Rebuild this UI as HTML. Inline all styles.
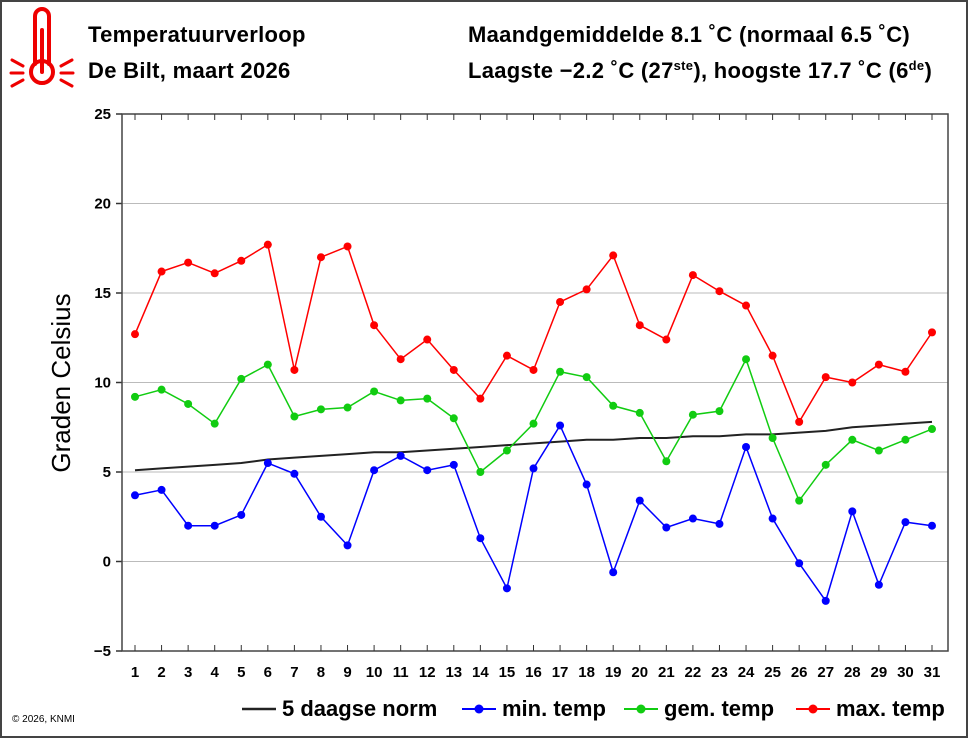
<!DOCTYPE html>
<html><head><meta charset="utf-8"><style>
html,body{margin:0;padding:0;background:#fff}
svg{display:block;font-family:"Liberation Sans",Arial,sans-serif}
</style></head><body>
<svg id="c" width="968" height="739" viewBox="0 0 968 739">
<rect x="1" y="1" width="966" height="736" fill="#fff" stroke="#444" stroke-width="2"/>
<g stroke="#e00" fill="none" stroke-linecap="round">
<path d="M35 64 V16 a7 7 0 0 1 14 0 V64" stroke-width="4"/>
<circle cx="42" cy="72" r="11" stroke-width="4"/>
<line x1="42" y1="30" x2="42" y2="72" stroke-width="4"/>
<line x1="11" y1="73" x2="23" y2="73" stroke-width="3"/><line x1="61" y1="73" x2="73" y2="73" stroke-width="3"/>
<line x1="12" y1="60" x2="23" y2="66" stroke-width="3"/><line x1="72" y1="60" x2="61" y2="66" stroke-width="3"/>
<line x1="12" y1="86" x2="23" y2="80" stroke-width="3"/><line x1="72" y1="86" x2="61" y2="80" stroke-width="3"/>
</g>
<g font-size="22" font-weight="bold" letter-spacing="0.3">
<text x="88" y="42">Temperatuurverloop</text>
<text x="88" y="78">De Bilt, maart 2026</text>
<text x="468" y="42">Maandgemiddelde 8.1 ˚C (normaal 6.5 ˚C)</text>
<text x="468" y="78">Laagste −2.2 ˚C (27<tspan font-size="13" dy="-8">ste</tspan><tspan dy="8">), hoogste 17.7 ˚C (6</tspan><tspan font-size="13" dy="-8">de</tspan><tspan dy="8">)</tspan></text>
</g>
<text transform="translate(70,383) rotate(-90)" text-anchor="middle" font-size="26">Graden Celsius</text>
<g id="grid"></g><g id="axes"></g><g id="series"></g>
<text x="12" y="722" font-size="10">© 2026, KNMI</text>
<g font-size="22" font-weight="bold">
<g><line x1="242" y1="709" x2="276" y2="709" stroke="#222" stroke-width="2.5"/><text x="282" y="716">5 daagse norm</text></g>
<g><line x1="462" y1="709" x2="496" y2="709" stroke="#00f" stroke-width="2"/><circle cx="479" cy="709" r="4.5" fill="#00f"/><text x="502" y="716">min. temp</text></g>
<g><line x1="624" y1="709" x2="658" y2="709" stroke="#1c1" stroke-width="2"/><circle cx="641" cy="709" r="4.5" fill="#1c1"/><text x="664" y="716">gem. temp</text></g>
<g><line x1="796" y1="709" x2="830" y2="709" stroke="#f00" stroke-width="2"/><circle cx="813" cy="709" r="4.5" fill="#f00"/><text x="836" y="716">max. temp</text></g>
</g>
</svg>
<script>
const days=[1,2,3,4,5,6,7,8,9,10,11,12,13,14,15,16,17,18,19,20,21,22,23,24,25,26,27,28,29,30,31];
const yTicks=[-5,0,5,10,15,20,25];
const maxTemp=[12.7,16.2,16.7,16.1,16.8,17.7,10.7,17.0,17.6,13.2,11.3,12.4,10.7,9.1,11.5,10.7,14.5,15.2,17.1,13.2,12.4,16.0,15.1,14.3,11.5,7.8,10.3,10.0,11.0,10.6,12.8];
const gemTemp=[9.2,9.6,8.8,7.7,10.2,11.0,8.1,8.5,8.6,9.5,9.0,9.1,8.0,5.0,6.2,7.7,10.6,10.3,8.7,8.3,5.6,8.2,8.4,11.3,6.9,3.4,5.4,6.8,6.2,6.8,7.4];
const minTemp=[3.7,4.0,2.0,2.0,2.6,5.5,4.9,2.5,0.9,5.1,5.9,5.1,5.4,1.3,-1.5,5.2,7.6,4.3,-0.6,3.4,1.9,2.4,2.1,6.4,2.4,-0.1,-2.2,2.8,-1.3,2.2,2.0];
const normTemp=[5.1,5.2,5.3,5.4,5.5,5.7,5.8,5.9,6.0,6.1,6.1,6.2,6.3,6.4,6.5,6.6,6.7,6.8,6.8,6.9,6.9,7.0,7.0,7.1,7.1,7.2,7.3,7.5,7.6,7.7,7.8];
const NS='http://www.w3.org/2000/svg';
const L=122,R=948,T=114,B=651;
const x=d=>135+(d-1)*(932-135)/30;
const y=v=>B-(v+5)*(B-T)/30;
function mk(tag,attrs,parent){const e=document.createElementNS(NS,tag);for(const k in attrs)e.setAttribute(k,attrs[k]);parent.appendChild(e);return e;}
const grid=document.getElementById('grid'),axes=document.getElementById('axes'),ser=document.getElementById('series');
yTicks.forEach(t=>{
 if(t>-5&&t<25){const g=mk('line',{x1:L,x2:R,y1:y(t),y2:y(t),stroke:'#bbb','stroke-width':1},grid);
 
 }
 const tk=mk('line',{x1:L-6,x2:L,y1:y(t),y2:y(t),stroke:'#333','stroke-width':1.5},axes);
 
 
 const lb=mk('text',{x:L-11,y:y(t)+5,'text-anchor':'end','font-size':15,'font-weight':'bold'},axes);
 lb.textContent=t<0?'−'+(-t):t;
 
 
});
const fr=mk('rect',{x:L,y:T,width:R-L,height:B-T,fill:'none',stroke:'#444','stroke-width':1.5},axes);


days.forEach(d=>{
 [[T,T+6],[B-6,B]].forEach(([a,b])=>{const tk=mk('line',{x1:x(d),x2:x(d),y1:a,y2:b,stroke:'#333','stroke-width':1},axes);
 
 });
 const lb=mk('text',{x:x(d),y:677,'text-anchor':'middle','font-size':15,'font-weight':'bold'},axes);
 lb.textContent=d;
 
 
});
function line(vals,color,name,dots,w){
 const p=mk('polyline',{points:vals.map((v,i)=>x(days[i])+','+y(v)).join(' '),fill:'none',stroke:color,'stroke-width':w},ser);
 
 
 if(dots)vals.forEach((v,i)=>{const c=mk('circle',{cx:x(days[i]),cy:y(v),r:4,fill:color},ser);
 
 });
}
line(normTemp,'#222','norm',false,2);
line(minTemp,'#00f','min-temp',true,1.5);
line(gemTemp,'#1c1','gem-temp',true,1.5);
line(maxTemp,'#f00','max-temp',true,1.5);
</script>
</body></html>
